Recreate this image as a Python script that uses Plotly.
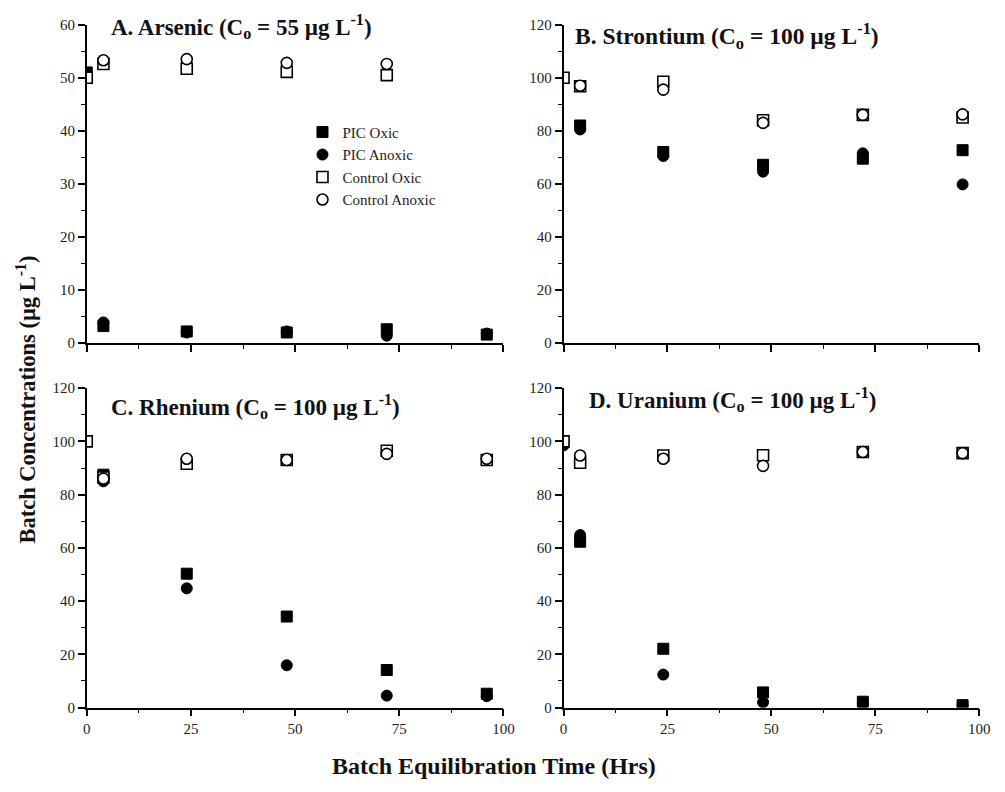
import plotly.graph_objects as go

# ---------------- data ----------------
time_hrs = [0, 4, 24, 48, 72, 96]
series_names = ["PIC Oxic", "PIC Anoxic", "Control Oxic", "Control Anoxic"]

# A. Arsenic
pic_oxic_A = [51, 3.2, 2.2, 2.0, 2.6, 1.6]
pic_anoxic_A = [None, 3.9, 2.0, 2.2, 1.4, 1.8]
control_oxic_A = [50, 52.6, 51.7, 51.1, 50.5, None]
control_anoxic_A = [None, 53.3, 53.5, 52.8, 52.6, None]

# B. Strontium
pic_oxic_B = [None, 82, 72, 67.2, 69.5, 72.7]
pic_anoxic_B = [None, 80.5, 70.5, 64.6, 71.5, 59.8]
control_oxic_B = [100, 96.8, 98.5, 84, 86, 85]
control_anoxic_B = [None, 97, 95.5, 83, 86, 86.2]

# C. Rhenium
pic_oxic_C = [None, 87.5, 50.3, 34.2, 14.1, 5.2]
pic_anoxic_C = [None, 85, 44.8, 15.9, 4.5, 4.3]
control_oxic_C = [100, 86.5, 91.6, 93, 96.5, 93]
control_anoxic_C = [None, 86, 93.5, 93, 95.3, 93.5]

# D. Uranium
pic_oxic_D = [None, 62.3, 22.1, 5.7, 2.2, 0.9]
pic_anoxic_D = [98.5, 64.8, 12.4, 2.0, 1.5, 0.8]
control_oxic_D = [100, 92, 94.7, 94.8, 96, 95.6]
control_anoxic_D = [None, 94.7, 93.5, 90.8, 96, 95.6]

panel_titles = [
    "A. Arsenic (C<sub>o</sub> = 55 µg L<sup>-1</sup>)",
    "B. Strontium (C<sub>o</sub> = 100 µg L<sup>-1</sup>)",
    "C. Rhenium (C<sub>o</sub> = 100 µg L<sup>-1</sup>)",
    "D. Uranium (C<sub>o</sub> = 100 µg L<sup>-1</sup>)",
]
x_ticks = [0, 25, 50, 75, 100]
x_title = "Batch Equilibration Time (Hrs)"
y_title = "Batch Concentrations (µg L<sup>-1</sup>)"

panels = [
    (pic_oxic_A, pic_anoxic_A, control_oxic_A, control_anoxic_A),
    (pic_oxic_B, pic_anoxic_B, control_oxic_B, control_anoxic_B),
    (pic_oxic_C, pic_anoxic_C, control_oxic_C, control_anoxic_C),
    (pic_oxic_D, pic_anoxic_D, control_oxic_D, control_anoxic_D),
]
y_ranges = [(0, 60, 10, 5), (0, 120, 20, 10), (0, 120, 20, 10), (0, 120, 20, 10)]

# ---------------- layout geometry ----------------
W, H = 1005, 792
FONT = "Liberation Serif"

def px_x(p):
    return p / W

def px_y(p):
    return 1 - p / H

x_doms = [(84, 507), (568, 990), (84, 507), (568, 990)]
y_doms = [(17, 342), (17, 342), (388, 714), (388, 714)]

styles = [
    dict(symbol="square", color="black", size=11, line=dict(color="black", width=1)),
    dict(symbol="circle", color="black", size=11, line=dict(color="black", width=1)),
    dict(symbol="square", color="white", size=11, line=dict(color="black", width=1.6)),
    dict(symbol="circle", color="white", size=11, line=dict(color="black", width=1.6)),
]

fig = go.Figure()
layout = dict(
    width=W, height=H,
    margin=dict(l=0, r=0, t=0, b=0),
    paper_bgcolor="white", plot_bgcolor="white",
    font=dict(family=FONT, color="black"),
    showlegend=True,
    legend=dict(
        x=px_x(303), y=px_y(110), xanchor="left", yanchor="top",
        font=dict(family=FONT, size=15, color="#222"),
        bgcolor="rgba(0,0,0,0)", tracegroupgap=0, itemwidth=30,
    ),
)

annotations = []
for i, data in enumerate(panels):
    n = i + 1
    xa = "x" if n == 1 else f"x{n}"
    ya = "y" if n == 1 else f"y{n}"
    for j, vals in enumerate(data):
        fig.add_trace(go.Scatter(
            x=time_hrs, y=vals, mode="markers", name=series_names[j],
            marker=styles[j], xaxis=xa, yaxis=ya,
            showlegend=(i == 0), legendgroup=series_names[j],
        ))
    y0, y1, dt, mdt = y_ranges[i]
    xkey = "xaxis" if n == 1 else f"xaxis{n}"
    ykey = "yaxis" if n == 1 else f"yaxis{n}"
    layout[xkey] = dict(
        domain=[px_x(x_doms[i][0]), px_x(x_doms[i][1])],
        anchor=ya, range=[0, 100], tickvals=x_ticks,
        showticklabels=(i >= 2), showgrid=False, zeroline=False,
        showline=True, linecolor="black", linewidth=1.5,
        ticks="outside", ticklen=7, tickwidth=1.5, tickcolor="black",
        minor=dict(dtick=12.5, tick0=0, ticks="outside", ticklen=4,
                   tickwidth=1.2, tickcolor="black", showgrid=False),
        tickfont=dict(family=FONT, size=15, color="#222"),
        fixedrange=True,
    )
    layout[ykey] = dict(
        domain=[px_y(y_doms[i][1]), px_y(y_doms[i][0])],
        anchor=xa, range=[y0, y1], dtick=dt, tick0=0,
        showgrid=False, zeroline=False,
        showline=True, linecolor="black", linewidth=1.5,
        ticks="outside", ticklen=7, tickwidth=1.5, tickcolor="black",
        minor=dict(dtick=mdt, tick0=0, ticks="outside", ticklen=4,
                   tickwidth=1.2, tickcolor="black", showgrid=False),
        tickfont=dict(family=FONT, size=15, color="#222"),
        fixedrange=True,
    )

title_pos = [(107, 18.5), (578, 28.5), (107, 406.5), (592, 400)]
title_sizes = [23, 23.5, 23, 23]
for t, (tx, ty), fs in zip(panel_titles, title_pos, title_sizes):
    annotations.append(dict(
        text=f"<b>{t}</b>", x=px_x(tx), y=px_y(ty), xref="paper", yref="paper",
        xanchor="left", yanchor="middle", showarrow=False,
        font=dict(family=FONT, size=fs, color="#111"),
    ))

annotations.append(dict(
    text=f"<b>{x_title}</b>", x=px_x(497), y=px_y(774), xref="paper", yref="paper",
    xanchor="center", yanchor="middle", showarrow=False,
    font=dict(family=FONT, size=24, color="#111"),
))
annotations.append(dict(
    text=f"<b>{y_title}</b>", x=px_x(22), y=px_y(400), xref="paper", yref="paper",
    xanchor="center", yanchor="middle", showarrow=False, textangle=-90,
    font=dict(family=FONT, size=22.5, color="#111"),
))
layout["annotations"] = annotations

fig.update_layout(**layout)
fig.write_html(
    "out.html",
    config={"displayModeBar": False},
    post_script="document.body.style.margin='0';document.body.style.overflow='hidden';",
)
